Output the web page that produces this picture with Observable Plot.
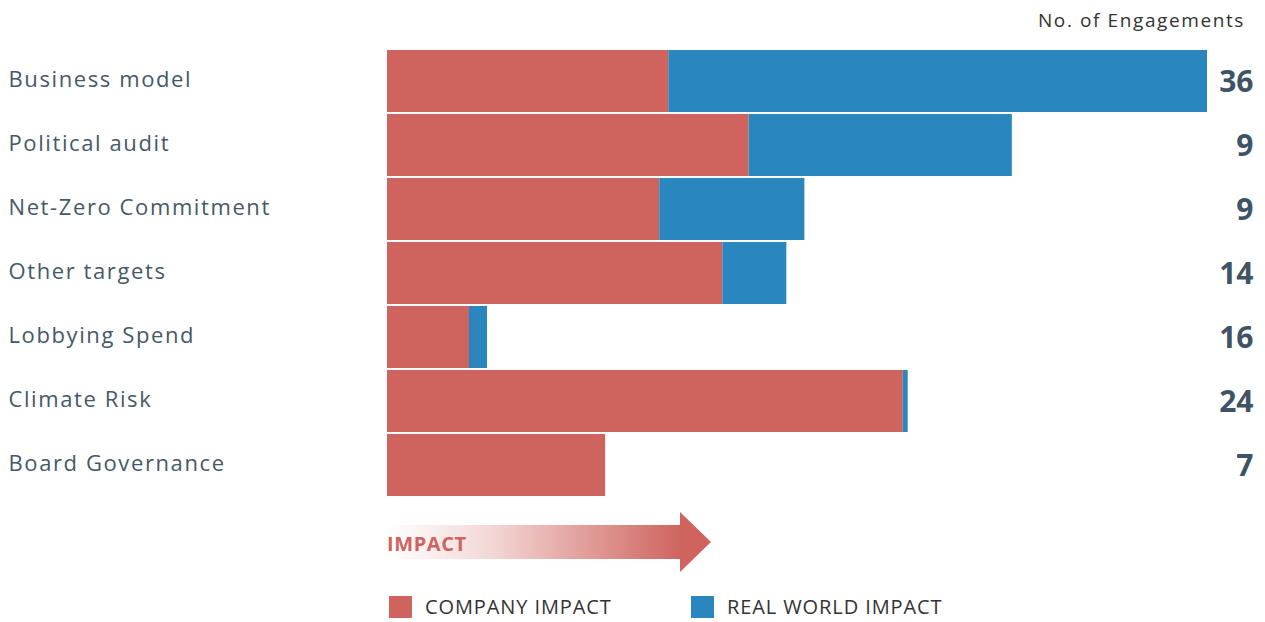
<!DOCTYPE html>
<html>
<head>
<meta charset="utf-8">
<script src="https://cdn.jsdelivr.net/npm/d3@7"></script>
<script src="https://cdn.jsdelivr.net/npm/@observablehq/plot@0.6"></script>
<style>
  body { margin: 0; background: #fff; font-family: "Open Sans", "Noto Sans", sans-serif; }
  #wrap { position: relative; width: 1265px; height: 622px; overflow: hidden; }
  #chart { position: absolute; left: 0; top: 0; }
  #header { position: absolute; right: 20px; top: 7px; font-size: 19px; color: #333; letter-spacing: 1.6px; }
  #arrow { position: absolute; left: 387px; top: 512px; width: 324px; height: 60px; }
  #arrow .body { position: absolute; left: 0; top: 13px; width: 294px; height: 34px;
    background: linear-gradient(to right, rgba(207,100,94,0) 0%, rgba(207,100,94,0.25) 35%, rgba(207,100,94,1) 100%); }
  #arrow .head { position: absolute; left: 293px; top: 0; width: 0; height: 0;
    border-top: 30px solid transparent; border-bottom: 30px solid transparent; border-left: 31px solid #cf645e; }
  #arrow .lbl { position: absolute; left: 0; top: 18px; font-size: 20px; font-weight: 700; color: #cf645e; letter-spacing: 0.6px; }
  .leg { position: absolute; top: 596px; height: 22px; display: flex; align-items: center; font-size: 20px; line-height: 22px; color: #333; letter-spacing: 0.9px; white-space: nowrap; }
  .leg .sw { width: 23px; height: 22px; margin-right: 13px; flex: none; }
  .cat-label text { letter-spacing: 1.6px; }
</style>
</head>
<body>
<div id="wrap">
  <div id="chart"></div>
  <div id="header"></div>
  <div id="arrow"><div class="body"></div><div class="head"></div><div class="lbl">IMPACT</div></div>
  <div id="legend"></div>
</div>
<script>
const categories = ["Business model", "Political audit", "Net-Zero Commitment", "Other targets", "Lobbying Spend", "Climate Risk", "Board Governance"];
const companyImpact = [34.3, 44.1, 33.2, 40.9, 10.0, 62.9, 26.6];
const realWorldImpact = [65.7, 32.1, 17.7, 7.8, 2.2, 0.6, 0];
const engagements = [36, 9, 9, 14, 16, 24, 7];
const seriesNames = ["COMPANY IMPACT", "REAL WORLD IMPACT"];
const seriesColors = ["#cf645e", "#2a86bf"];
const headerText = "No. of Engagements";
const arrowLabel = "IMPACT";

const rows = [];
categories.forEach((c, i) => {
  rows.push({cat: c, series: seriesNames[0], value: companyImpact[i]});
  rows.push({cat: c, series: seriesNames[1], value: realWorldImpact[i]});
});
const totals = categories.map((c, i) => ({cat: c, n: engagements[i]}));

const chart = Plot.plot({
  width: 1265,
  height: 510,
  marginLeft: 387,
  marginRight: 58,
  marginTop: 49,
  marginBottom: 13,
  x: {domain: [0, 100], axis: null},
  y: {domain: categories, axis: null, paddingInner: 0.035, paddingOuter: 0},
  color: {domain: seriesNames, range: seriesColors},
  style: {fontFamily: "'Open Sans', 'Noto Sans', sans-serif"},
  marks: [
    Plot.barX(rows, Plot.stackX({x: "value", y: "cat", fill: "series", order: seriesNames})),
    Plot.text(categories, {y: d => d, text: d => d, frameAnchor: "left", textAnchor: "start", dx: -379, dy: -2, fontSize: 22, fill: "#44596a", className: "cat-label"}),
    Plot.text(totals, {y: "cat", text: d => String(d.n), frameAnchor: "right", textAnchor: "end", dx: 46, dy: 1, fontSize: 30, fontWeight: 700, fill: "#3e5364"})
  ]
});
document.getElementById("chart").appendChild(chart);
document.getElementById("header").textContent = headerText;
document.querySelector("#arrow .lbl").textContent = arrowLabel;

const legend = document.getElementById("legend");
const legX = [389, 691];
seriesNames.forEach((s, i) => {
  const d = document.createElement("div");
  d.className = "leg";
  d.style.left = legX[i] + "px";
  d.innerHTML = `<div class="sw" style="background:${seriesColors[i]}"></div><span>${s}</span>`;
  legend.appendChild(d);
});
</script>
</body>
</html>
